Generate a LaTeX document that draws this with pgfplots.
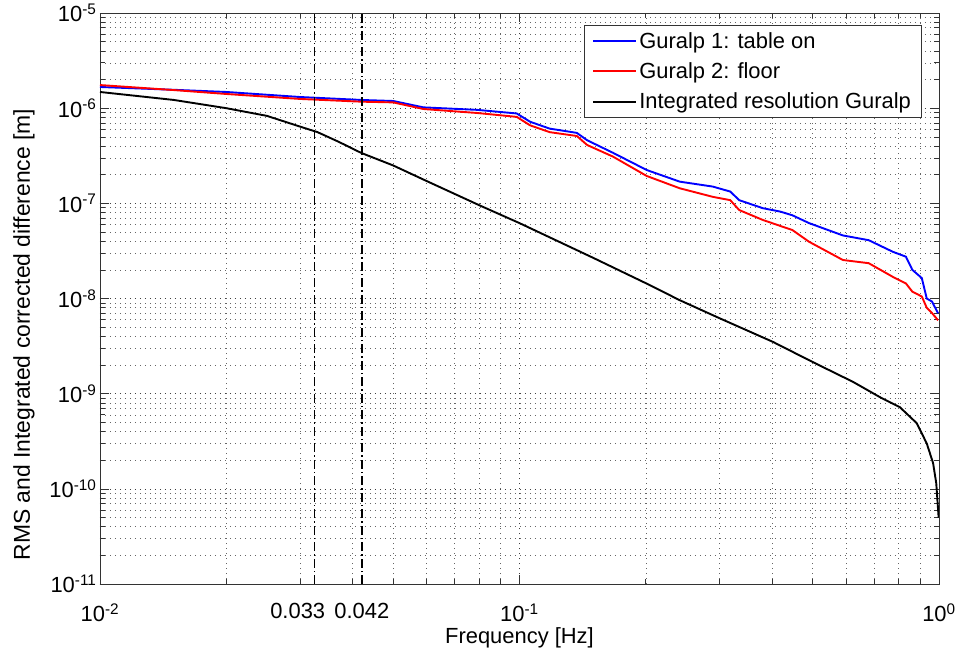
\documentclass[border=0pt]{standalone}
\usepackage{pgfplots}
\pgfplotsset{compat=1.18}
\usepackage{fontspec}
\setmainfont{Liberation Sans}
\begin{document}
\begin{tikzpicture}
\useasboundingbox (-100bp,-65bp) rectangle (863bp,584bp);
\begin{axis}[
  at={(0,0)}, anchor=south west,
  scale only axis, width=839bp, height=571bp,
  xmode=log, ymode=log,
  xmin=0.01, xmax=1, ymin=1e-11, ymax=1e-5,
  font=\fontsize{22}{26}\selectfont,
  xticklabel={10\textsuperscript{\pgfmathparse{int(round(\tick/2.302585093))}\pgfmathresult}},
  yticklabel={10\textsuperscript{\pgfmathparse{int(round(\tick/2.302585093))}\pgfmathresult}},
  xticklabel style={yshift=-16bp},
  extra x ticks={0.0325,0.0421},
  extra x tick labels={{\kern-34bp 0.033},0.042},
  extra x tick style={grid=none, major tick length=9bp},
  xlabel={Frequency [Hz]},
  ylabel={RMS and Integrated corrected difference [m]},
  xlabel style={yshift=1bp},
  ylabel style={yshift=8bp, xshift=-36bp, font=\fontsize{23}{27}\selectfont},
  grid=both,
  major grid style={black!75, dash pattern=on 1bp off 4bp, line width=0.6bp},
  minor grid style={black!60, dash pattern=on 1bp off 4bp, line width=0.5bp},
  major tick length=9bp, minor tick length=5bp,
  tick style={black!80, line width=0.6bp},
  axis line style={black!80, line width=0.8bp},
  legend style={at={(rel axis cs:0.979,0.979)}, anchor=north east,
    draw=black!80, line width=0.8bp, inner xsep=8bp, inner ysep=5bp,
    font=\fontsize{22}{26}\selectfont, row sep=9bp},
  legend cell align=left,
  legend image code/.code={\draw[mark repeat=2,mark phase=2] plot coordinates {(0bp,0bp)(21.5bp,0bp)(43bp,0bp)};},
]
\addplot[blue, line width=1.9bp] coordinates {
(0.01,1.67e-6)(0.015,1.56e-6)(0.02,1.48e-6)(0.03,1.31e-6)(0.042,1.22e-6)(0.05,1.19e-6)(0.059,1.02e-6)(0.0793,9.6e-7)(0.0985,8.8e-7)(0.106,7.2e-7)(0.118,6.1e-7)(0.137,5.5e-7)(0.145,4.6e-7)(0.167,3.4e-7)(0.201,2.24e-7)(0.241,1.69e-7)(0.289,1.5e-7)(0.318,1.33e-7)(0.334,1.08e-7)(0.38,8.9e-8)(0.418,8.2e-8)(0.447,7.5e-8)(0.49,6.2e-8)(0.59,4.6e-8)(0.68,4.1e-8)(0.776,3.1e-8)(0.834,2.75e-8)(0.864,2.0e-8)(0.91,1.64e-8)(0.935,1.0e-8)(0.962,9.3e-9)(0.995,7.0e-9)
};
\addlegendentry{Guralp 1: table on}
\addplot[red, line width=1.9bp] coordinates {
(0.01,1.75e-6)(0.015,1.55e-6)(0.02,1.41e-6)(0.03,1.25e-6)(0.042,1.17e-6)(0.05,1.15e-6)(0.059,9.8e-7)(0.0793,8.9e-7)(0.0985,8.1e-7)(0.106,6.6e-7)(0.118,5.6e-7)(0.137,5.1e-7)(0.145,4.1e-7)(0.167,3.1e-7)(0.201,1.94e-7)(0.241,1.44e-7)(0.289,1.17e-7)(0.318,1.08e-7)(0.334,8.5e-8)(0.38,6.7e-8)(0.418,5.8e-8)(0.447,5.25e-8)(0.49,3.95e-8)(0.59,2.54e-8)(0.68,2.35e-8)(0.776,1.69e-8)(0.834,1.44e-8)(0.864,1.18e-8)(0.91,1.05e-8)(0.935,8e-9)(0.962,7.05e-9)(0.995,5.9e-9)
};
\addlegendentry{Guralp 2: floor}
\addplot[black, line width=1.9bp] coordinates {
(0.01,1.48e-6)(0.015,1.22e-6)(0.02,1.0e-6)(0.025,8.3e-7)(0.03,6.4e-7)(0.033,5.6e-7)(0.037,4.45e-7)(0.042,3.38e-7)(0.045,3.0e-7)(0.05,2.5e-7)(0.06,1.72e-7)(0.08,9.6e-8)(0.1,6.2e-8)(0.15,2.67e-8)(0.2,1.45e-8)(0.241,9.6e-9)(0.3,6.2e-9)(0.402,3.5e-9)(0.5,2.15e-9)(0.624,1.33e-9)(0.723,9.2e-10)(0.807,7.2e-10)(0.885,4.9e-10)(0.935,3.0e-10)(0.968,1.87e-10)(0.985,1.15e-10)(0.998,5e-11)
};
\addlegendentry{Integrated resolution Guralp}
\addplot[black, line width=0.8bp, dash pattern=on 9bp off 3bp on 1.5bp off 3bp, forget plot] coordinates {(0.0325,1e-11)(0.0325,1e-5)};
\addplot[black, line width=1.8bp, dash pattern=on 9bp off 3bp on 1.5bp off 3bp, forget plot] coordinates {(0.0421,1e-11)(0.0421,1e-5)};
\end{axis}
\end{tikzpicture}
\end{document}
